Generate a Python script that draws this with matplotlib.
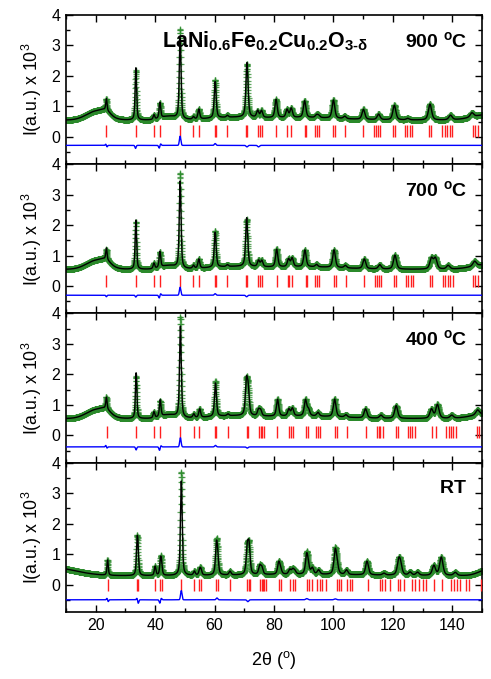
import numpy as np
import matplotlib
matplotlib.use('Agg')
import matplotlib.pyplot as plt
from matplotlib.ticker import MultipleLocator

plt.rcParams['font.family'] = ['Liberation Sans', 'DejaVu Sans']
plt.rcParams['mathtext.fontset'] = 'custom'
plt.rcParams['mathtext.rm'] = 'Liberation Sans'
plt.rcParams['mathtext.it'] = 'Liberation Sans:italic'
plt.rcParams['mathtext.bf'] = 'Liberation Sans:bold'

# ---------------- data ----------------
temps = ['900', '700', '400', 'RT']

# base background level of each pattern
base_900, base_700, base_400, base_rt = 0.55, 0.55, 0.55, 0.29

# broad background humps: centre, height, sigma
hump900_pos = [20.5, 23.5, 44.5, 66.0, 90.0, 152.0]
hump900_h = [0.30, 0.12, 0.12, 0.08, 0.08, 0.18]
hump900_w = [3.5, 1.5, 2.5, 8.0, 12.0, 5.0]
hump700_pos = [20.5, 23.5, 44.5, 66.0, 90.0, 152.0]
hump700_h = [0.30, 0.12, 0.12, 0.08, 0.08, 0.16]
hump700_w = [3.5, 1.5, 2.5, 8.0, 12.0, 5.0]
hump400_pos = [20.5, 23.5, 44.5, 66.0, 90.0, 152.0]
hump400_h = [0.30, 0.12, 0.12, 0.08, 0.08, 0.16]
hump400_w = [3.5, 1.5, 2.5, 8.0, 12.0, 5.0]
humprt_pos = [5.0, 90.0, 152.0]
humprt_h = [0.27, 0.04, 0.2]
humprt_w = [8.0, 20.0, 3.0]

# Bragg peaks of the calculated profile: position (2theta), height above background
pk900_pos = [23.6, 33.5, 39.6, 41.6, 48.4, 52.9, 54.7, 60.2, 64.3, 70.9, 74.5, 75.8,
             80.7, 84.4, 85.8, 90.3, 94.3, 95.0, 100.0, 103.8, 110.1, 115.2, 120.5,
             125.0, 132.5, 139.4, 146.6]
pk900_h = [0.38, 1.72, 0.15, 0.52, 2.65, 0.08, 0.32, 1.2, 0.06, 1.8, 0.22, 0.22,
           0.6, 0.26, 0.3, 0.55, 0.08, 0.07, 0.6, 0.08, 0.33, 0.18, 0.48,
           0.05, 0.52, 0.15, 0.14]
pk700_pos = [23.6, 33.5, 39.6, 41.6, 48.4, 52.9, 54.7, 60.2, 64.3, 70.8, 74.8, 75.9,
             80.9, 84.9, 86.1, 90.4, 94.3, 100.2, 104.0, 110.4, 115.6, 120.7,
             133.0, 134.3, 138.6, 147.5]
pk700_h = [0.38, 1.62, 0.18, 0.52, 2.85, 0.1, 0.3, 1.15, 0.06, 1.6, 0.2, 0.2,
           0.58, 0.25, 0.28, 0.55, 0.08, 0.58, 0.08, 0.32, 0.14, 0.46,
           0.35, 0.35, 0.12, 0.16]
pk400_pos = [23.6, 33.6, 39.6, 41.7, 48.5, 53.0, 55.0, 60.3, 64.5, 70.7, 71.3, 74.8,
             75.5, 81.2, 85.0, 86.2, 90.6, 91.6, 94.8, 100.4, 104.2, 110.8, 116.0,
             121.1, 133.0, 135.0, 139.8, 148.5]
pk400_h = [0.38, 1.5, 0.2, 0.55, 3.0, 0.12, 0.28, 1.1, 0.06, 1.05, 0.8, 0.2,
           0.18, 0.55, 0.22, 0.25, 0.52, 0.2, 0.12, 0.58, 0.08, 0.3, 0.1,
           0.42, 0.3, 0.45, 0.1, 0.16]
pkrt_pos = [24.0, 33.9, 34.2, 40.0, 41.8, 42.1, 48.8, 53.2, 55.0, 55.4, 60.6, 61.0,
            65.2, 71.0, 71.6, 75.2, 75.9, 81.6, 82.2, 85.3, 86.3, 87.0, 91.0, 91.5,
            92.9, 95.0, 100.6, 101.2, 104.4, 111.3, 117.0, 122.0, 122.6, 125.8,
            128.3, 133.8, 136.3, 141.0]
pkrt_h = [0.5, 0.9, 0.72, 0.3, 0.42, 0.33, 3.1, 0.13, 0.16, 0.16, 0.88, 0.5,
          0.12, 0.82, 0.88, 0.27, 0.22, 0.38, 0.15, 0.15, 0.15, 0.1, 0.6, 0.2,
          0.2, 0.14, 0.75, 0.25, 0.15, 0.45, 0.06, 0.45, 0.27, 0.1,
          0.1, 0.32, 0.6, 0.1]

# differences (obs - calc): position, amplitude
df900_pos = [23.4, 23.8, 33.4, 41.4, 41.8, 48.4, 60.2, 70.9, 74.8]
df900_a = [0.04, -0.05, -0.1, -0.1, 0.06, 0.3, 0.06, -0.05, -0.05]
df700_pos = [23.6, 33.5, 41.4, 41.8, 48.4, 60.2, 70.8]
df700_a = [-0.05, -0.06, -0.1, 0.06, 0.26, 0.05, -0.05]
df400_pos = [23.4, 23.8, 33.6, 41.5, 41.9, 48.5, 60.3, 71.0]
df400_a = [0.05, -0.04, -0.1, -0.12, 0.05, 0.3, 0.05, -0.04]
dfrt_pos = [23.8, 24.2, 33.9, 34.3, 41.6, 42.0, 48.8, 60.8, 71.2, 91.0, 100.6]
dfrt_a = [0.05, -0.06, 0.06, -0.12, -0.12, 0.06, 0.3, 0.06, -0.06, 0.04, 0.03]

# Bragg reflection positions (red ticks)
br900 = [23.6, 33.5, 39.6, 41.6, 48.4, 52.9, 54.7, 60.1, 60.4, 64.3, 70.7, 71.0,
         74.5, 75.4, 76.1, 80.7, 84.4, 85.8, 90.3, 90.9, 93.7, 94.4, 95.3, 100.0,
         100.6, 103.8, 110.0, 113.8, 114.3, 115.1, 115.8, 120.1, 120.8, 124.0,
         124.8, 125.7, 126.6, 132.2, 132.8, 136.6, 137.4, 138.3, 139.2, 140.0,
         146.8, 147.6, 148.7]
br700 = [23.6, 33.5, 39.6, 41.6, 48.4, 52.9, 54.7, 60.1, 60.4, 64.3, 70.6, 70.9,
         74.6, 75.3, 75.9, 80.9, 84.6, 85.2, 86.0, 90.6, 91.2, 93.8, 94.4, 95.2,
         100.2, 100.8, 104.2, 110.2, 113.9, 114.5, 115.2, 116.0, 120.4, 121.0,
         124.3, 125.2, 126.0, 126.9, 132.6, 133.2, 136.8, 137.6, 138.4, 139.3,
         140.1, 147.0, 147.7, 148.8]
br400 = [23.7, 33.6, 39.7, 41.7, 48.5, 53.0, 54.9, 60.3, 60.6, 64.5, 70.9, 71.3,
         74.9, 75.5, 76.1, 76.6, 81.0, 85.0, 85.7, 86.4, 90.8, 91.4, 94.3, 94.9,
         95.6, 100.6, 101.2, 104.5, 111.0, 114.6, 115.2, 115.8, 116.6, 121.1,
         121.8, 125.0, 125.8, 126.6, 127.5, 133.2, 134.6, 138.0, 138.8, 139.6,
         140.4, 141.2, 148.2, 148.9]
brrt = [24.0, 33.9, 34.2, 40.0, 41.8, 42.2, 48.8, 53.2, 54.9, 55.4, 60.6, 61.0,
        65.2, 71.0, 71.5, 71.8, 75.2, 75.8, 76.3, 76.8, 77.4, 81.6, 82.2, 85.5,
        86.3, 87.2, 91.2, 91.7, 92.9, 94.6, 95.4, 96.2, 97.4, 101.1, 101.8,
        102.4, 104.7, 105.5, 106.4, 111.8, 115.6, 116.5, 117.5, 119.0, 121.7,
        122.4, 123.7, 126.3, 127.5, 128.7, 130.0, 131.1, 133.8, 136.5, 139.6,
        140.5, 141.5, 142.5, 144.5, 145.6, 149.6]

# vertical offsets of the Bragg ticks and of the difference curve
tick_level = [0.18, 0.18, 0.12, 0.0]
diff_level = [-0.28, -0.3, -0.38, -0.5]

# ---------------- helpers ----------------
def pvoigt(x, c, h, fwhm, eta=0.55):
    u = (x - c) / fwhm
    return h * (eta / (1 + 4 * u ** 2) + (1 - eta) * np.exp(-4 * np.log(2) * u ** 2))


def fwhm_at(c):
    return 0.35 + 0.007 * c


x = np.arange(10.0, 150.0001, 0.04)

panels = [
    (base_900, hump900_pos, hump900_h, hump900_w, pk900_pos, pk900_h, df900_pos, df900_a, br900),
    (base_700, hump700_pos, hump700_h, hump700_w, pk700_pos, pk700_h, df700_pos, df700_a, br700),
    (base_400, hump400_pos, hump400_h, hump400_w, pk400_pos, pk400_h, df400_pos, df400_a, br400),
    (base_rt, humprt_pos, humprt_h, humprt_w, pkrt_pos, pkrt_h, dfrt_pos, dfrt_a, brrt),
]

fig = plt.figure(figsize=(4.91, 6.79), dpi=100)
left, width = 0.1344, 0.8473
bottom0, h = 0.0987, 0.2198

green = '#2b8a2b'
for i, (base, hp, hh, hw, pp, ph, dp, da, br) in enumerate(panels):
    ax = fig.add_axes([left, bottom0 + (3 - i) * h, width, h])
    calc = np.full_like(x, base)
    for c, a, s in zip(hp, hh, hw):
        calc += a * np.exp(-0.5 * ((x - c) / s) ** 2)
    for c, a in zip(pp, ph):
        calc += pvoigt(x, c, a, fwhm_at(c))
    diff = np.zeros_like(x)
    for c, a in zip(dp, da):
        diff += a * np.exp(-0.5 * ((x - c) / (0.35 * fwhm_at(c))) ** 2)
    obs = calc + diff

    ax.plot(x, obs, ls='none', marker='+', ms=5, mew=0.9, color=green, alpha=0.75, zorder=2)
    ax.plot(x, calc, color='black', lw=1.0, zorder=3)
    ax.plot(br, np.full(len(br), tick_level[i]), ls='none', marker='|', ms=8,
            mew=1.0, color='#ff2020', zorder=3)
    ax.plot(x, diff + diff_level[i], color='blue', lw=1.0, zorder=3)

    ax.set_xlim(10, 150)
    ax.set_ylim(-0.9, 4.0)
    ax.xaxis.set_major_locator(MultipleLocator(20))
    ax.xaxis.set_minor_locator(MultipleLocator(10))
    ax.yaxis.set_major_locator(MultipleLocator(1))
    ax.yaxis.set_minor_locator(MultipleLocator(0.5))
    ax.tick_params(which='both', direction='in', top=True, right=True, labelsize=11.5,
                   width=1.0, pad=4)
    ax.tick_params(which='major', length=5)
    ax.tick_params(which='minor', length=3)
    ax.set_yticks([0, 1, 2, 3, 4])
    for sp in ax.spines.values():
        sp.set_linewidth(1.2)
    ax.set_ylabel(r'I(a.u.) x 10$^{3}$', fontsize=12.8, labelpad=5)
    if i < 3:
        ax.tick_params(labelbottom=False)
    else:
        ax.set_xlabel(r'2θ ($^{\mathrm{o}}$)', fontsize=13, labelpad=12)

    if temps[i] == 'RT':
        label = r'$\mathbf{RT}$'
    else:
        label = r'$\mathbf{' + temps[i] + r'\ {}^{o}C}$'
    ax.text(145, 3.15, label, ha='right', va='center', fontsize=14)
    if i == 0:
        ax.text(42.3, 3.15, r'$\mathbf{LaNi_{0.6}Fe_{0.2}Cu_{0.2}O_{3‐δ}}$',
                ha='left', va='center', fontsize=15.5)

fig.savefig('out.png', dpi=100)
